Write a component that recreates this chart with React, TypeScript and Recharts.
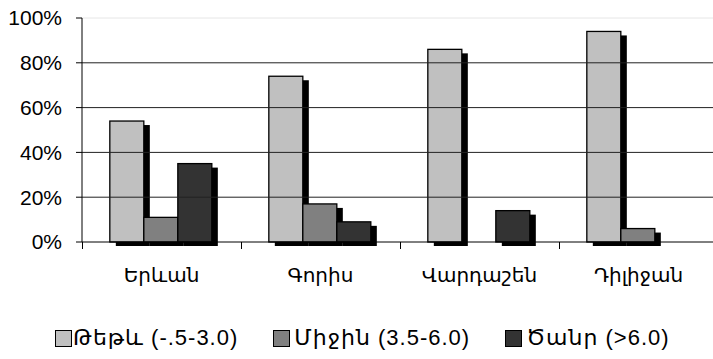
import React from 'react';
import { BarChart, Bar, XAxis, YAxis, ReferenceLine, Legend } from 'recharts';

const categories = ['Երևան', 'Գորիս', 'Վարդաշեն', 'Դիլիջան'];
const lightValues = [54, 74, 86, 94];
const mediumValues = [11, 17, 0, 6];
const heavyValues = [35, 9, 14, 0];
const seriesNames = ['Թեթև (-.5-3.0)', 'Միջին (3.5-6.0)', 'Ծանր (>6.0)'];
const seriesColors = ['#C0C0C0', '#808080', '#333333'];
const yTicks = [0, 20, 40, 60, 80, 100];
const gridValues = [20, 40, 60, 80];

const data = categories.map((c, i) => ({
  name: c,
  light: lightValues[i],
  medium: mediumValues[i],
  heavy: heavyValues[i],
}));

const FONT = '"Liberation Sans", "DejaVu Sans", Arial, sans-serif';
const CHART_W = 720;
const CHART_H = 359;
const MARGIN = { top: 18, right: 2, left: 0, bottom: 8 };
const Y_AXIS_W = 82;
const X_TICK_MARGIN = 26;
const BOUNDARY_TICK = 7;
const BAND = (CHART_W - MARGIN.left - MARGIN.right - Y_AXIS_W) / categories.length;

function CategoryTick(props: any) {
  const x = Number(props.x);
  const y = Number(props.y);
  const axisY = y - X_TICK_MARGIN;
  const half = BAND / 2;
  const value = props.payload ? props.payload.value : '';
  const right = Math.round(x + half) + 0.5;
  const left = Math.round(x - half) + 0.5;
  return (
    <g>
      <rect x={right - 0.5} y={axisY} width={1} height={BOUNDARY_TICK} fill="#000" />
      {props.index === 0 && (
        <rect x={left - 0.5} y={axisY} width={1} height={BOUNDARY_TICK} fill="#000" />
      )}
      <text x={x} y={y} dy="0.71em" textAnchor="middle" fill="#000" fontSize={20} fontFamily={FONT}>
        {value}
      </text>
    </g>
  );
}

const ShadowBar = (props: any) => {
  const { x, y, width, height, fill } = props;
  if (!height || height <= 0) return null;
  return (
    <g>
      <rect x={x + 6} y={y + 4} width={width} height={height} fill="#000" />
      <rect x={x} y={y} width={width} height={height} fill={fill} stroke="#000" strokeWidth={1.3} />
    </g>
  );
};

const LegendContent = () => (
  <div
    style={{
      display: 'flex',
      justifyContent: 'flex-start',
      alignItems: 'center',
      height: 26,
      fontFamily: FONT,
      fontSize: 22,
      letterSpacing: 1,
      color: '#000',
      paddingLeft: 55,
      whiteSpace: 'nowrap',
    }}
  >
    {seriesNames.map((n, i) => (
      <div key={n} style={{ display: 'flex', alignItems: 'center', marginRight: i < 2 ? 35 : 0 }}>
        <span
          style={{
            display: 'inline-block',
            width: 15,
            height: 15,
            background: seriesColors[i],
            border: '1px solid #000',
            marginRight: i === 0 ? 1 : 4,
          }}
        />
        <span>{n}</span>
      </div>
    ))}
  </div>
);

export default function App() {
  return (
    <div style={{ position: 'absolute', left: 0, top: 0, width: 713, height: CHART_H, overflow: 'hidden', background: '#fff' }}>
      <BarChart
        width={CHART_W}
        height={CHART_H}
        data={data}
        margin={MARGIN}
        barCategoryGap="17.5%"
        barGap={0}
      >
        <XAxis
          dataKey="name"
          height={83}
          tickLine={false}
          tickSize={0}
          tickMargin={X_TICK_MARGIN}
          axisLine={{ stroke: '#000' }}
          tick={CategoryTick}
          interval={0}
        />
        <YAxis
          width={Y_AXIS_W}
          domain={[0, 100]}
          ticks={yTicks}
          tickFormatter={(v: number) => v + '%'}
          axisLine={{ stroke: '#000' }}
          tickLine={{ stroke: '#000' }}
          tickSize={6}
          tickMargin={14}
          tick={{ fill: '#000', fontSize: 21, fontFamily: FONT }}
          interval={0}
        />
        <ReferenceLine y={100} stroke="#e6e6e6" />
        {gridValues.map((v) => (
          <ReferenceLine key={v} y={v} stroke="#222" />
        ))}
        <Legend verticalAlign="bottom" content={<LegendContent />} />
        <Bar dataKey="light" name={seriesNames[0]} fill={seriesColors[0]} shape={ShadowBar} isAnimationActive={false} />
        <Bar dataKey="medium" name={seriesNames[1]} fill={seriesColors[1]} shape={ShadowBar} isAnimationActive={false} />
        <Bar dataKey="heavy" name={seriesNames[2]} fill={seriesColors[2]} shape={ShadowBar} isAnimationActive={false} />
      </BarChart>
    </div>
  );
}
